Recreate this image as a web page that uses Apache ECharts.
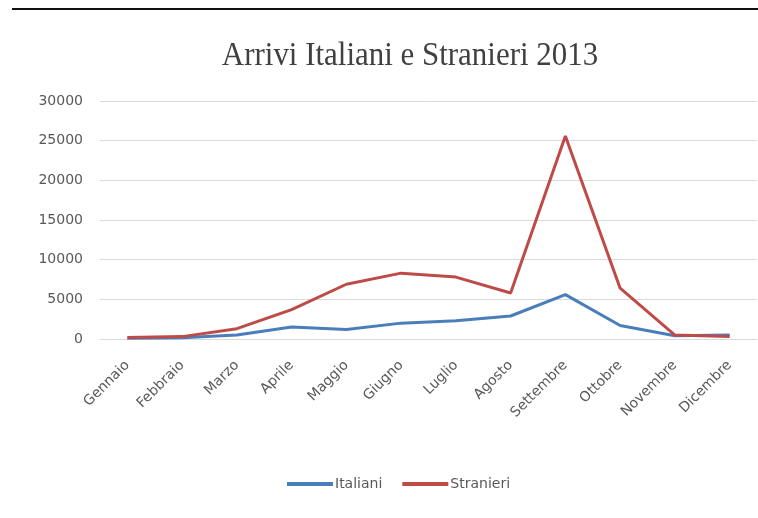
<!DOCTYPE html>
<html><head><meta charset="utf-8">
<script src="https://cdn.jsdelivr.net/npm/echarts@6/dist/echarts.min.js"></script>
<style>html,body{margin:0;padding:0;background:#fff}#c{width:758px;height:518px}</style>
</head><body><div id="c"></div>
<script>
const months = ["Gennaio","Febbraio","Marzo","Aprile","Maggio","Giugno","Luglio","Agosto","Settembre","Ottobre","Novembre","Dicembre"];
const italiani = [100, 150, 500, 1500, 1200, 2000, 2300, 2900, 5600, 1700, 400, 500];
const stranieri = [200, 300, 1300, 3700, 6900, 8300, 7800, 5800, 25600, 6400, 500, 300];
const yTicks = [0, 5000, 10000, 15000, 20000, 25000, 30000];
const titleText = "Arrivi Italiani e Stranieri 2013";

const chart = echarts.init(document.getElementById('c'), null, {renderer:'canvas'});
const lab = {fontFamily:"'DejaVu Sans',sans-serif", color:'#595959', fontSize:14};
chart.setOption({
  backgroundColor:'#fff',
  animation:false,
  graphic:[
    {type:'line', shape:{x1:12,y1:9,x2:758,y2:9}, style:{stroke:'#111', lineWidth:2}},
    {type:'text', x:410, y:56, originX:0, originY:0, scaleX:0.91,
      style:{text:titleText, font:"normal 34px 'Liberation Serif', serif", fill:'#404040', textAlign:'center', textVerticalAlign:'middle'}}
  ],
  legend:{top:472, left:282, itemWidth:46, itemHeight:4, itemGap:20, icon:'rect',
    textStyle:Object.assign({}, lab, {fontSize:14, padding:[0,0,0,-3]}),
    data:['Italiani','Stranieri']},
  grid:{left:100, right:1, top:101, bottom:179, containLabel:false},
  xAxis:{type:'category', data:months, boundaryGap:true,
    axisLine:{lineStyle:{color:'#d9d9d9'}}, axisTick:{show:false},
    axisLabel:Object.assign({}, lab, {rotate:45, interval:0, margin:24})},
  yAxis:{type:'value', min:yTicks[0], max:yTicks[yTicks.length-1], interval:5000,
    axisLine:{show:false}, axisTick:{show:false},
    splitLine:{lineStyle:{color:'#d9d9d9', width:1}},
    axisLabel:Object.assign({}, lab, {margin:17, formatter:v => String(v)})},
  series:[
    {name:'Italiani', type:'line', data:italiani, symbol:'none', lineStyle:{color:'#4a7ebb', width:3}, itemStyle:{color:'#4a7ebb'}},
    {name:'Stranieri', type:'line', data:stranieri, symbol:'none', lineStyle:{color:'#be4b48', width:3}, itemStyle:{color:'#be4b48'}}
  ]
});
</script></body></html>
